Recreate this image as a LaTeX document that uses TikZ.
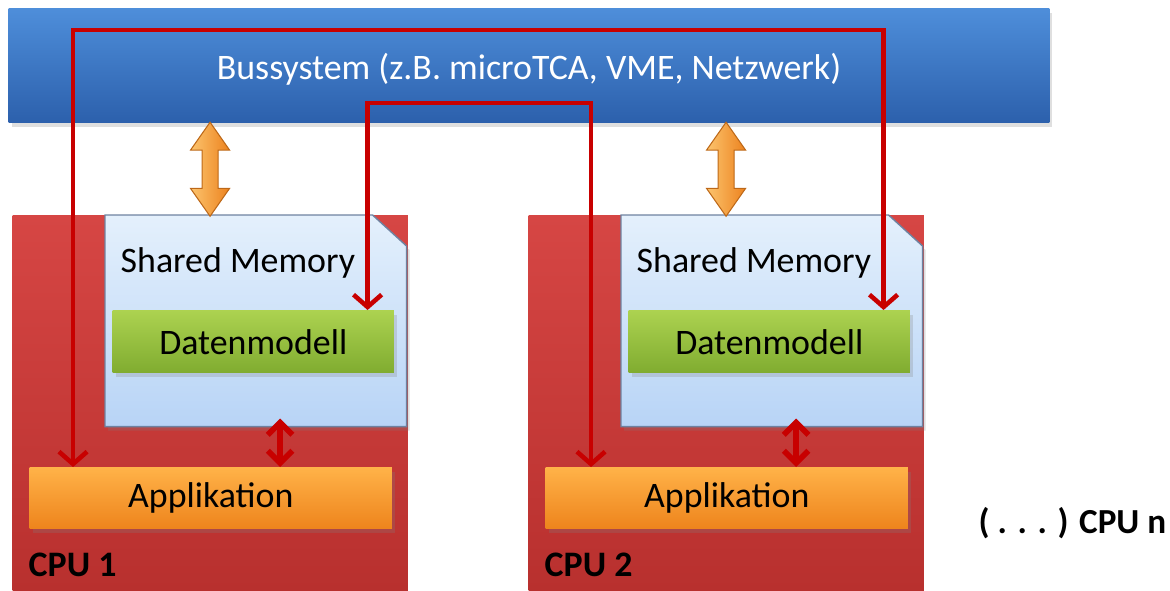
\documentclass[tikz,border=0pt]{standalone}
\usepackage{fontspec}
\setmainfont{Carlito}
\usetikzlibrary{arrows.meta,positioning,shapes.arrows,shadows,calc}
\definecolor{bustop}{RGB}{78,142,218}
\definecolor{busbot}{RGB}{44,96,172}
\definecolor{cputop}{RGB}{214,70,68}
\definecolor{cpubot}{RGB}{184,48,46}
\definecolor{memtop}{RGB}{228,240,252}
\definecolor{membot}{RGB}{184,212,246}
\definecolor{memline}{RGB}{110,130,160}
\definecolor{dattop}{RGB}{172,210,80}
\definecolor{datbot}{RGB}{128,172,48}
\definecolor{apptop}{RGB}{255,178,72}
\definecolor{appbot}{RGB}{238,132,28}
\definecolor{linered}{RGB}{200,0,0}
\definecolor{arrlight}{RGB}{252,196,110}
\definecolor{arrdark}{RGB}{236,130,30}

\tikzset{
  txt/.style={font=\fontsize{10.2pt}{12pt}\selectfont},
  softshadow/.style={drop shadow={opacity=0.25, shadow xshift=0.03cm, shadow yshift=-0.04cm}},
  busbox/.style={top color=bustop, bottom color=busbot, inner sep=0pt, softshadow},
  cpubox/.style={top color=cputop, bottom color=cpubot, inner sep=0pt},
  memshape/.style={top color=memtop, bottom color=membot, draw=memline, line width=0.4pt},
  datbox/.style={txt, top color=dattop, bottom color=datbot, inner sep=0pt, softshadow},
  appbox/.style={txt, top color=apptop, bottom color=appbot, inner sep=0pt, softshadow},
  cpulabel/.style={font=\fontsize{10.2pt}{12pt}\selectfont\bfseries, inner sep=0pt},
  busarrow/.style={shape=double arrow, rotate=90, left color=arrlight, right color=arrdark,
    draw=arrdark!80!black, line width=0.3pt, inner xsep=0pt, inner ysep=0.075cm,
    minimum height=0.94cm, double arrow head extend=0.115cm, double arrow tip angle=70},
  route/.style={linered, line width=1.3pt, {Straight Barb[length=3.5pt,width=8pt]}-{Straight Barb[length=3.5pt,width=8pt]}},
  memlink/.style={linered, line width=1.6pt, {Straight Barb[length=3.5pt,width=7pt]}-{Straight Barb[length=3.5pt,width=7pt]}}
}

\begin{document}
\begin{tikzpicture}[x=0.01cm,y=-0.01cm]
\useasboundingbox (0,0) rectangle (1170,590);
% Bus
\node[busbox, anchor=north west, minimum width=10.4cm, minimum height=1.14cm] (bus) at (8,8) {};
\node[txt, text=white] (bustxt) at ([yshift=-0.04cm]bus.center) {Bussystem (z.B. microTCA, VME, Netzwerk)};
% CPU boards
\foreach \i/\dx in {1/0, 2/516} {
  \node[cpubox, anchor=north west, minimum width=3.95cm, minimum height=3.75cm] (cpu\i) at (12+\dx,215) {};
  \node[cpulabel, anchor=west] (cpulab\i) at (28+\dx,565) {CPU \i};
  \node[anchor=north west, inner sep=0pt, minimum width=3.0cm, minimum height=2.1cm] (mem\i) at (105+\dx,215) {};
  \path[memshape, softshadow] (mem\i.south west) -- (mem\i.north west) -- ([xshift=-0.34cm]mem\i.north east)
    -- ([yshift=-0.31cm]mem\i.north east) -- (mem\i.south east) -- cycle;
  \node[txt, anchor=west, inner sep=0pt] (memlab\i) at (120+\dx,263) {Shared Memory};
  \node[datbox, anchor=north west, minimum width=2.81cm, minimum height=0.62cm] (dat\i) at (112+\dx,310) {Datenmodell};
  \node[appbox, anchor=north west, minimum width=3.62cm, minimum height=0.61cm] (app\i) at (29+\dx,467) {Applikation};
  % bus access
  \coordinate (memport\i) at ([xshift=1.05cm]mem\i.north west);
  \path (memport\i |- bus.south) -- (memport\i) node[midway, busarrow] (busarr\i) {};
  % memory to application
  \coordinate (memapp\i) at ([xshift=1.75cm]mem\i.south west);
  \draw[memlink] ([yshift=0.08cm]memapp\i) -- (memapp\i |- app\i.north);
}
\node[cpulabel, anchor=west, font=\fontsize{10pt}{12pt}\selectfont\bfseries] (cpun) at (978,523) {( . . . ) CPU n};
% Routes over the bus
\coordinate (hiA) at (450,30);
\coordinate (hiB) at (450,103);
\draw[route] ([xshift=0.44cm]app1.north west) |- (hiA) -| ([xshift=-0.27cm]dat2.north east);
\draw[route] ([xshift=-0.27cm]dat1.north east) |- (hiB) -| ([xshift=0.46cm]app2.north west);
\end{tikzpicture}
\end{document}
